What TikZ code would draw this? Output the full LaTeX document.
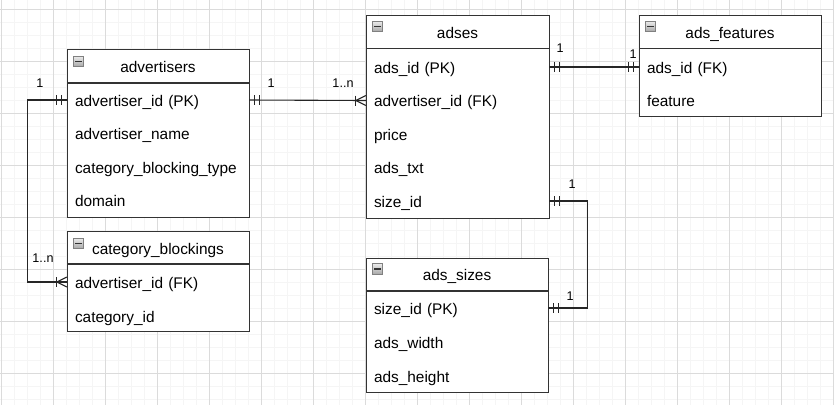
\documentclass[tikz,border=0pt]{standalone}
\usepackage{fontspec}
\setmainfont{Liberation Sans}
\tikzset{
  minorgrid/.style={draw=black!4, line width=0.8pt},
  majorgrid/.style={draw=black!14, line width=0.8pt},
  tbl/.style={draw=black!80, line width=1.2pt, fill=white, anchor=north west, inner sep=0pt},
  hline/.style={draw=black!80, line width=1.2pt},
  tbltitle/.style={font=\fontsize{15.4}{18}\selectfont, inner sep=0pt, text height=14pt, text depth=2pt},
  rowtxt/.style={font=\fontsize{15.4}{18}\selectfont, text width=166pt, inner xsep=8pt, inner ysep=0pt, minimum height=33pt, align=left, text height=14pt, text depth=2pt},
  icon/.style={draw=black!50, line width=0.6pt, top color=black!8, bottom color=black!35, minimum size=10.5pt, inner sep=0pt,
    path picture={\draw[black!80, line width=1.8pt] ([xshift=2.2pt]path picture bounding box.west) -- ([xshift=-2.2pt]path picture bounding box.east);}},
  conn/.style={draw=black!85, line width=1.1pt},
  erbar/.style={draw=black!85, line width=1.1pt},
  card/.style={font=\fontsize{12.6}{14}\selectfont, inner sep=0pt},
}
\begin{document}
\begin{tikzpicture}[x=1pt,y=-1pt]
\useasboundingbox (0,0) rectangle (834,405);
\fill[white] (0,0) rectangle (834,405);
% grid
\foreach \i in {0,...,64} \draw[minorgrid] ({1.3+13*\i},0) -- ({1.3+13*\i},405);
\foreach \j in {0,...,30} \draw[minorgrid] (0,{9.3+13*\j}) -- (834,{9.3+13*\j});
\foreach \i in {0,...,16} \draw[majorgrid] ({1.3+52*\i},0) -- ({1.3+52*\i},405);
\foreach \j in {0,...,7} \draw[majorgrid] (0,{9.3+52*\j}) -- (834,{9.3+52*\j});

% advertisers
\node[tbl, minimum width=182pt, minimum height=168pt] (advertisers) at (67,49) {};
\draw[hline] (67,83) -- (249,83);
\node[icon] (advertisers-icon) at (78.5,61.5) {};
\node[tbltitle] (advertisers-title) at (158,66) {advertisers};
\node[rowtxt] (adv-id) at (158,100) {advertiser\_id (PK)};
\node[rowtxt] (adv-name) at (158,133.5) {advertiser\_name};
\node[rowtxt] (adv-type) at (158,167) {category\_blocking\_type};
\node[rowtxt] (adv-domain) at (158,200.5) {domain};

% adses
\node[tbl, minimum width=183pt, minimum height=203pt] (adses) at (366,15) {};
\draw[hline] (366,48.5) -- (549,48.5);
\node[icon] (adses-icon) at (377.5,26.5) {};
\node[tbltitle] (adses-title) at (457.5,32) {adses};
\node[rowtxt, text width=167pt] (ad-id) at (457.5,67) {ads\_id (PK)};
\node[rowtxt, text width=167pt] (ad-aid) at (457.5,100.5) {advertiser\_id (FK)};
\node[rowtxt, text width=167pt] (ad-price) at (457.5,134) {price};
\node[rowtxt, text width=167pt] (ad-txt) at (457.5,167.5) {ads\_txt};
\node[rowtxt, text width=167pt] (ad-size) at (457.5,201) {size\_id};

% ads_features
\node[tbl, minimum width=182pt, minimum height=101pt] (features) at (639,15) {};
\draw[hline] (639,48.5) -- (821,48.5);
\node[icon] (features-icon) at (650.5,26.5) {};
\node[tbltitle] (features-title) at (730,32) {ads\_features};
\node[rowtxt] (af-id) at (730,67) {ads\_id (FK)};
\node[rowtxt] (af-feature) at (730,100.5) {feature};

% category_blockings
\node[tbl, minimum width=182pt, minimum height=100pt] (blockings) at (67,231) {};
\draw[hline] (67,264) -- (249,264);
\node[icon] (blockings-icon) at (78.5,243.5) {};
\node[tbltitle] (blockings-title) at (158,248) {category\_blockings};
\node[rowtxt] (cb-aid) at (158,282) {advertiser\_id (FK)};
\node[rowtxt] (cb-cid) at (158,316) {category\_id};

% ads_sizes
\node[tbl, minimum width=182pt, minimum height=134pt] (sizes) at (366,257.5) {};
\draw[hline] (366,291) -- (548,291);
\node[icon] (sizes-icon) at (377.5,269) {};
\node[tbltitle] (sizes-title) at (457,274.5) {ads\_sizes};
\node[rowtxt] (as-id) at (457,308) {size\_id (PK)};
\node[rowtxt] (as-width) at (457,342) {ads\_width};
\node[rowtxt] (as-height) at (457,376) {ads\_height};

% connectors
\draw[conn] (adv-id.west) -- ++(-39,0) |- (cb-aid.west);
\draw[conn] (adv-id.east) -- (ad-aid.west);
\draw[conn] (ad-id.east) -- (af-id.west);
\draw[conn] (ad-size.east) -- ++(38,0) |- (as-id.east);

% markers: mandatory one (two bars)
\foreach \a/\s in {adv-id.west/-1, adv-id.east/1, ad-id.east/1, af-id.west/-1, ad-size.east/1, as-id.east/1}{
  \draw[erbar] ([xshift=\s*5pt, yshift=5pt]\a) -- ([xshift=\s*5pt, yshift=-5pt]\a);
  \draw[erbar] ([xshift=\s*10pt, yshift=5pt]\a) -- ([xshift=\s*10pt, yshift=-5pt]\a);
}
% markers: one to many (bar + crow foot)
\foreach \a in {cb-aid.west, ad-aid.west}{
  \draw[erbar] ([yshift=5pt]\a) -- ([xshift=-10pt]\a) -- ([yshift=-5pt]\a);
  \draw[erbar] ([xshift=-10pt, yshift=5pt]\a) -- ([xshift=-10pt, yshift=-5pt]\a);
}

% cardinality labels
\node[card] (c1) at (40,83) {1};
\node[card] (c2) at (43,258) {1..n};
\node[card] (c3) at (271,83) {1};
\node[card] (c4) at (343,83) {1..n};
\node[card] (c5) at (560,48) {1};
\node[card] (c6) at (633,54) {1};
\node[card] (c7) at (572,184) {1};
\node[card] (c8) at (570,296) {1};
\end{tikzpicture}
\end{document}
